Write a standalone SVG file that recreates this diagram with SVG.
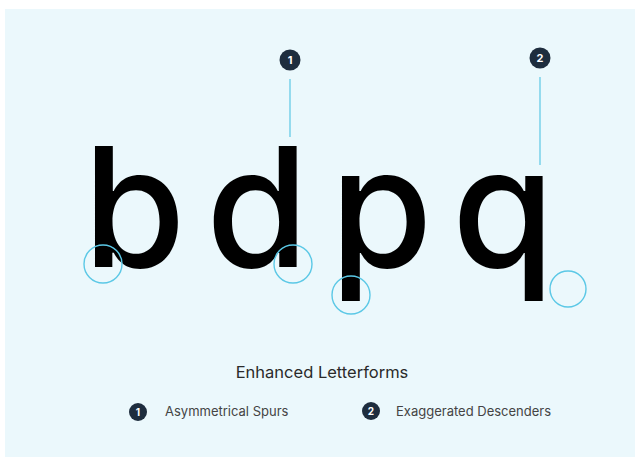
<svg xmlns="http://www.w3.org/2000/svg" width="635" height="457" viewBox="0 0 635 457">
  <style>
    .glyph { font-family: Inter, "Liberation Sans", sans-serif; font-size: 166px; font-weight: 500; fill: #000; }
    .badge { fill: #1E2D3E; }
    .num { font-family: Inter, "Liberation Sans", sans-serif; font-size: 11px; font-weight: 700; fill: #fff; text-anchor: middle; }
    .ring { fill: none; stroke: #5BC8E6; stroke-width: 1.4; }
    .lead { stroke: #7FD3EA; stroke-width: 1.6; }
    .title { font-family: Inter, "Liberation Sans", sans-serif; font-size: 16.5px; font-weight: 400; fill: #2A2A2A; text-anchor: middle; }
    .legend { font-family: Inter, "Liberation Sans", sans-serif; font-size: 13px; font-weight: 400; fill: #444444; }
  </style>
  <rect x="0" y="0" width="635" height="457" fill="#ffffff"/>
  <rect x="5" y="9" width="630" height="448" fill="#EBF8FC"/>

  <g id="connectors">
    <line class="lead" x1="290" y1="79" x2="290" y2="137"/>
    <line class="lead" x1="540" y1="77" x2="540" y2="165"/>
  </g>

  <g id="callout-1">
    <circle class="badge" cx="290" cy="60" r="10.5"/>
    <text class="num" x="290" y="64">1</text>
  </g>
  <g id="callout-2">
    <circle class="badge" cx="540" cy="58" r="10.5"/>
    <text class="num" x="540" y="62">2</text>
  </g>

  <g id="letter-b"><text class="glyph" x="83" y="267">b</text></g>
  <g id="letter-d"><text class="glyph" x="206" y="267">d</text></g>
  <g id="letter-p"><text class="glyph" x="330" y="267">p</text></g>
  <g id="letter-q"><text class="glyph" x="452" y="267">q</text></g>

  <g id="highlight-b"><circle class="ring" cx="103" cy="264" r="19"/></g>
  <g id="highlight-d"><circle class="ring" cx="293" cy="264" r="19"/></g>
  <g id="highlight-p"><circle class="ring" cx="351" cy="295" r="19"/></g>
  <g id="highlight-q"><circle class="ring" cx="568" cy="289" r="18"/></g>

  <g id="title"><text class="title" x="322" y="378">Enhanced Letterforms</text></g>

  <g id="legend-1">
    <circle class="badge" cx="138" cy="412" r="9"/>
    <text class="num" x="138" y="416" style="font-size:10px">1</text>
    <text class="legend" x="165" y="416">Asymmetrical Spurs</text>
  </g>
  <g id="legend-2">
    <circle class="badge" cx="371" cy="411" r="9"/>
    <text class="num" x="371" y="415" style="font-size:10px">2</text>
    <text class="legend" x="396" y="416">Exaggerated Descenders</text>
  </g>
</svg>
